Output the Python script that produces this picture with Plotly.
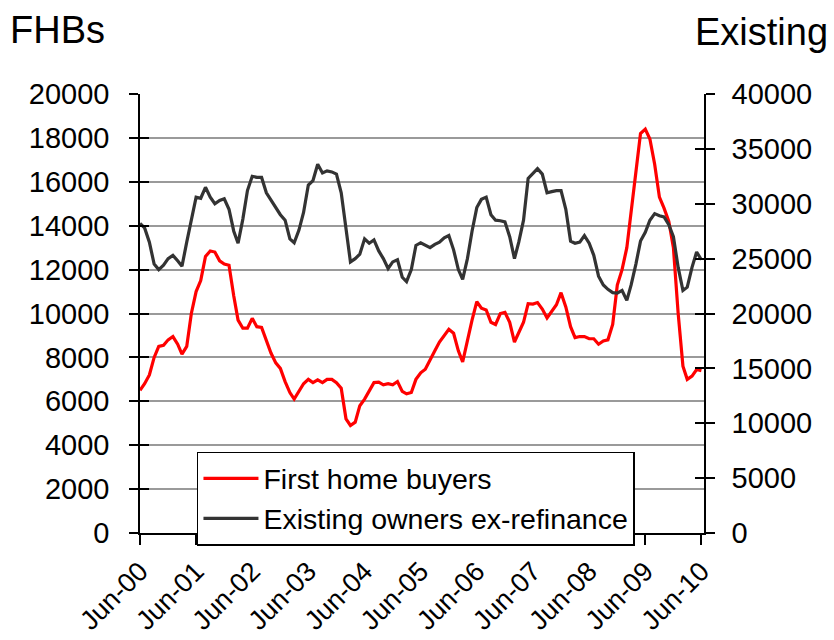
import pandas as pd
import plotly.graph_objects as go

months = pd.date_range("2000-06-01", periods=121, freq="MS")

first_home_buyers = [
    6500, 6800, 7200, 8000, 8500, 8550, 8800, 8950, 8600, 8150,
    8500, 10000, 11000, 11500, 12600, 12850, 12800, 12400, 12250, 12200,
    10800, 9700, 9330, 9330, 9780, 9400, 9370, 8800, 8200, 7750,
    7500, 6900, 6400, 6100, 6450, 6800, 7000, 6850, 6980, 6850,
    7000, 7000, 6850, 6600, 5200, 4900, 5050, 5800, 6100, 6500,
    6850, 6870, 6750, 6800, 6750, 6900, 6450, 6340, 6400, 7000,
    7300, 7460, 7850, 8300, 8700, 9000, 9280, 9100, 8300, 7800,
    8800, 9700, 10540, 10240, 10160, 9600, 9500, 10000, 10050, 9600,
    8700, 9100, 9600, 10450, 10430, 10500, 10200, 9800, 10100, 10400,
    10950, 10300, 9400, 8900, 8950, 8950, 8850, 8850, 8600, 8750,
    8800, 9500, 11300, 12000, 13000, 14700, 16500, 18200, 18400, 17950,
    16800, 15300, 14800, 14200, 13000, 10000, 7600, 7000, 7150, 7450,
    7400,
]

existing_owners = [
    28200, 27800, 26500, 24500, 24000, 24400, 25000, 25300, 24800, 24300,
    26500, 28500, 30600, 30500, 31500, 30600, 30000, 30300, 30450, 29500,
    27500, 26400, 28600, 31200, 32500, 32400, 32400, 31000, 30300, 29600,
    29000, 28500, 26800, 26450, 27600, 29200, 31700, 32100, 33600, 32800,
    33000, 32900, 32700, 31000, 28000, 24700, 25000, 25400, 26800, 26400,
    26700, 25700, 25000, 24100, 24700, 24900, 23300, 22900, 24000, 26200,
    26450, 26200, 26000, 26300, 26500, 26900, 27100, 25800, 24000, 23100,
    25000, 27500, 29650, 30400, 30600, 29000, 28500, 28450, 28350, 27000,
    25000, 26500, 28500, 32300, 32800, 33200, 32700, 31000, 31100, 31200,
    31200, 29500, 26600, 26400, 26500, 27100, 26400, 25300, 23400, 22600,
    22200, 21900, 21850, 22100, 21200, 22600, 24500, 26600, 27400, 28500,
    29100, 28900, 28800, 28100, 27000, 24200, 22100, 22400, 24200, 25600,
    24900,
]

left_ticks = list(range(0, 20001, 2000))
right_ticks = list(range(0, 40001, 5000))

FONT = "Liberation Sans, Arial, sans-serif"
TICK_SIZE = 29

fig = go.Figure()
fig.add_trace(go.Scatter(
    x=months, y=first_home_buyers, name="First home buyers",
    mode="lines", line=dict(color="#ff0000", width=3.2), yaxis="y"))
fig.add_trace(go.Scatter(
    x=months, y=existing_owners, name="Existing owners ex-refinance",
    mode="lines", line=dict(color="#333333", width=3.2), yaxis="y2"))
# invisible helpers so the crossing (inside) tick marks are drawn
fig.add_trace(go.Scatter(x=months, y=first_home_buyers, yaxis="y3", mode="lines",
                         line=dict(width=0), opacity=0, showlegend=False, hoverinfo="skip"))
fig.add_trace(go.Scatter(x=months, y=existing_owners, yaxis="y4", mode="lines",
                         line=dict(width=0), opacity=0, showlegend=False, hoverinfo="skip"))

fig.update_layout(
    width=834, height=640,
    margin=dict(l=140, r=130, t=94, b=107),
    paper_bgcolor="white", plot_bgcolor="white",
    font=dict(family=FONT, size=TICK_SIZE, color="black"),
    showlegend=True,
    legend=dict(x=0.101, y=0.185, xanchor="left", yanchor="top",
                bgcolor="white", bordercolor="black", borderwidth=1.5,
                font=dict(size=28.5, family=FONT), itemwidth=55, tracegroupgap=0),
    xaxis=dict(
        type="date", range=["2000-06-01", "2010-06-18"],
        tick0="2000-06-01", dtick="M12", tickformat="%b-%y",
        tickangle=-45, ticks="outside", ticklen=10, tickwidth=1.5, tickcolor="black",
        showline=True, linecolor="black", linewidth=1.5, showgrid=False,
        zeroline=False, tickfont=dict(size=27), automargin=False),
    yaxis=dict(
        range=[0, 20000], tickvals=left_ticks, tickformat="d", ticks="outside", ticklen=9,
        tickwidth=1.5, tickcolor="black", showline=True, linecolor="black",
        linewidth=1.5, showgrid=True, gridcolor="#9a9a9a", gridwidth=1.5,
        zeroline=False, ticklabelstandoff=14, tickfont=dict(size=TICK_SIZE),
        automargin=False),
    yaxis2=dict(
        range=[0, 40000], tickvals=right_ticks, tickformat="d", overlaying="y", side="right",
        ticks="outside", ticklen=9, tickwidth=1.5, tickcolor="black",
        showline=True, linecolor="black", linewidth=1.5, showgrid=False,
        zeroline=False, ticklabelstandoff=11, tickfont=dict(size=TICK_SIZE),
        automargin=False),
    yaxis3=dict(
        range=[0, 20000], tickvals=left_ticks, overlaying="y", side="left",
        ticks="inside", ticklen=9, tickwidth=1.5, tickcolor="black",
        showticklabels=False, showline=False, showgrid=False, zeroline=False,
        automargin=False),
    yaxis4=dict(
        range=[0, 40000], tickvals=right_ticks, overlaying="y", side="right",
        ticks="inside", ticklen=9, tickwidth=1.5, tickcolor="black",
        showticklabels=False, showline=False, showgrid=False, zeroline=False,
        automargin=False),
    annotations=[
        dict(text="FHBs", xref="paper", yref="paper", x=-140/564, y=1 + 64/439,
             xanchor="left", yanchor="middle", showarrow=False,
             font=dict(size=38, family=FONT), xshift=8),
        dict(text="Existing", xref="paper", yref="paper", x=1 + 130/564, y=1 + 62/439,
             xanchor="right", yanchor="middle", showarrow=False,
             font=dict(size=38, family=FONT), xshift=-4),
    ],
)

fig.write_html(
    "out.html",
    config={"displayModeBar": False},
    post_script="document.body.style.margin='0';document.body.style.padding='0';"
                "document.documentElement.style.overflow='hidden';",
)
